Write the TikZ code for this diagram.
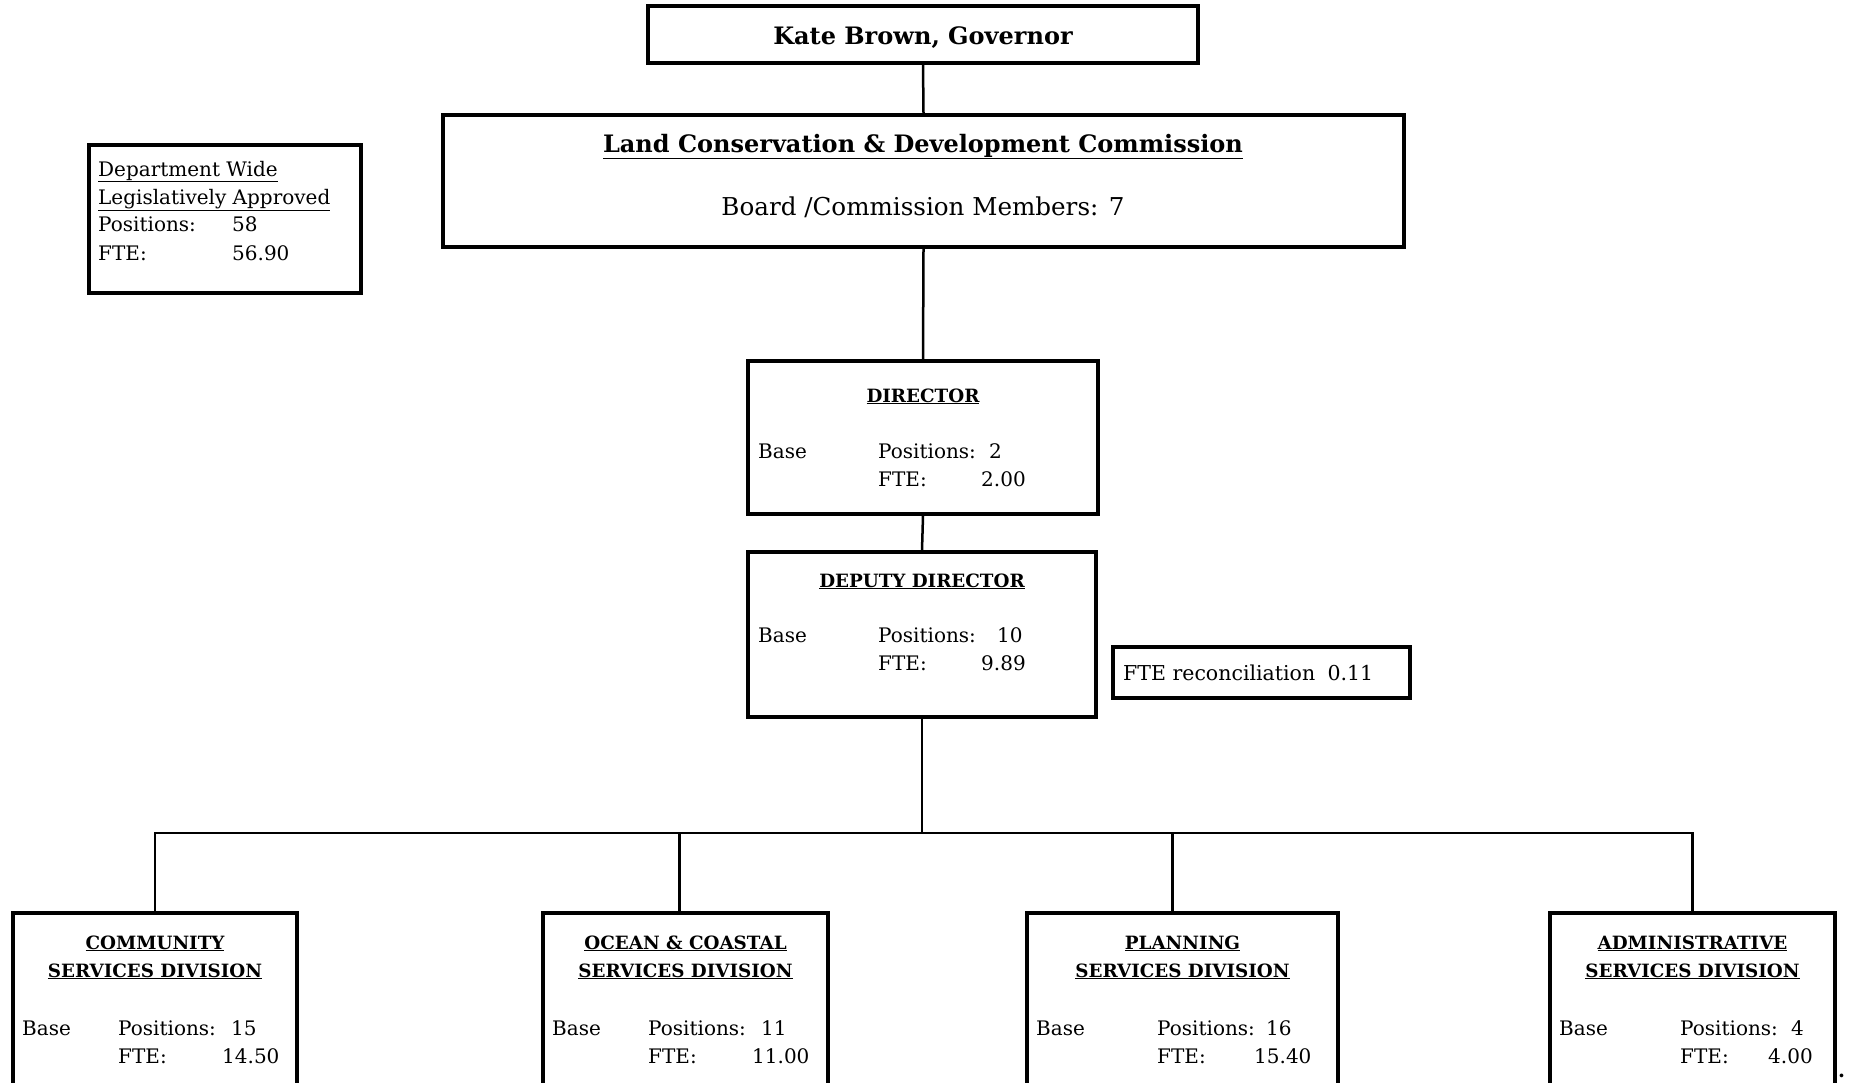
\documentclass[tikz,border=0pt]{standalone}
\usepackage{fontspec}
\setmainfont{DejaVu Serif}
\usetikzlibrary{positioning}
\tikzset{
        % Boxes
        orgbox/.style={rectangle, draw=black, line width=3.2pt, fill=white, inner sep=0pt},
        % Plain text lines
        stat/.style={inner sep=0pt, anchor=base west, font=\fontsize{20}{24}\selectfont},
        % Underlined headings
        heading/.style={inner sep=0pt, anchor=base, font=\fontsize{18.3}{22}\selectfont\bfseries},
        % Large texts of the top boxes
        bigtext/.style={inner sep=0pt, anchor=base, font=\fontsize{24.6}{28}\selectfont},
        % Connectors
        link/.style={line width=2.5pt}
}
\begin{document}
\begin{tikzpicture}[x=1pt, y=-1pt]
            \useasboundingbox (0,0) rectangle (1851,1082);
            \clip (0,0) rectangle (1851,1082);
            % Top of the chart
            \node[orgbox, minimum width=550pt, minimum height=57pt] (gov) at (923,34.5) {};
            \node[bigtext, font=\fontsize{24}{28}\selectfont\bfseries] (govname) at (923,44) {Kate Brown, Governor};
            \node[orgbox, minimum width=961pt, minimum height=132pt] (lcdc) at (923.5,181) {};
            \node[bigtext, font=\fontsize{24}{28}\selectfont\bfseries] (lcdcname) at (923,152) {\underline{Land Conservation \& Development Commission}};
            \node[bigtext] (lcdcmembers) at (923,215) {Board /Commission Members: 7};
            % Department wide totals
            \node[orgbox, minimum width=272pt, minimum height=148pt] (total) at (225,219) {};
            \node[stat] (totalline1) at (98,176) {\underline{Department Wide}};
            \node[stat] (totalline2) at (98,204) {\underline{Legislatively Approved}};
            \node[stat] (totalpos) at (98,231) {Positions:};
            \node[stat] (totalposnum) at (232,231) {58};
            \node[stat] (totalfte) at (98,260) {FTE:};
            \node[stat] (totalftenum) at (232,260) {56.90};
            % Director
            \node[orgbox, minimum width=350pt, minimum height=153pt] (dir) at (923,437.5) {};
            \node[heading] (dirname) at (923,402) {\underline{DIRECTOR}};
            \node[stat] (dirbase) at (758,458) {Base};
            \node[stat] (dirpos) at (878,458) {Positions:};
            \node[stat] (dirposnum) at (989,458) {2};
            \node[stat] (dirfte) at (878,486) {FTE:};
            \node[stat] (dirftenum) at (981,486) {2.00};
            % Deputy director
            \node[orgbox, minimum width=348pt, minimum height=165pt] (dep) at (922,634.5) {};
            \node[heading] (depname) at (922,587) {\underline{DEPUTY DIRECTOR}};
            \node[stat] (depbase) at (758,642) {Base};
            \node[stat] (deppos) at (878,642) {Positions:};
            \node[stat] (depposnum) at (997,642) {10};
            \node[stat] (depfte) at (878,670) {FTE:};
            \node[stat] (depftenum) at (981,670) {9.89};
            \node[orgbox, minimum width=297pt, minimum height=51pt] (recon) at (1261.5,672.5) {};
            \node[stat, font=\fontsize{20.5}{24}\selectfont] (recontext) at (1123,680) {FTE reconciliation\hspace{0.6em}0.11};
            % Divisions
            \node[orgbox, minimum width=284pt, minimum height=220pt] (comm) at (155,1023) {};
            \node[heading] (commname1) at (155,949) {\underline{COMMUNITY}};
            \node[heading] (commname2) at (155,977) {\underline{SERVICES DIVISION}};
            \node[stat] (commbase) at (22,1035) {Base};
            \node[stat] (commpos) at (118,1035) {Positions:};
            \node[stat] (commposnum) at (231,1035) {15};
            \node[stat] (commfte) at (118,1063) {FTE:};
            \node[stat] (commftenum) at (222,1063) {14.50};
            \node[orgbox, minimum width=285pt, minimum height=220pt] (ocean) at (685.5,1023) {};
            \node[heading] (oceanname1) at (685.5,949) {\underline{OCEAN \& COASTAL}};
            \node[heading] (oceanname2) at (685.5,977) {\underline{SERVICES DIVISION}};
            \node[stat] (oceanbase) at (552,1035) {Base};
            \node[stat] (oceanpos) at (648,1035) {Positions:};
            \node[stat] (oceanposnum) at (761,1035) {11};
            \node[stat] (oceanfte) at (648,1063) {FTE:};
            \node[stat] (oceanftenum) at (752,1063) {11.00};
            \node[orgbox, minimum width=311pt, minimum height=220pt] (plan) at (1182.5,1023) {};
            \node[heading] (planname1) at (1182.5,949) {\underline{PLANNING}};
            \node[heading] (planname2) at (1182.5,977) {\underline{SERVICES DIVISION}};
            \node[stat] (planbase) at (1036,1035) {Base};
            \node[stat] (planpos) at (1157,1035) {Positions:};
            \node[stat] (planposnum) at (1266,1035) {16};
            \node[stat] (planfte) at (1157,1063) {FTE:};
            \node[stat] (planftenum) at (1254,1063) {15.40};
            \node[orgbox, minimum width=285pt, minimum height=220pt] (admin) at (1692.5,1023) {};
            \node[heading] (adminname1) at (1692.5,949) {\underline{ADMINISTRATIVE}};
            \node[heading] (adminname2) at (1692.5,977) {\underline{SERVICES DIVISION}};
            \node[stat] (adminbase) at (1559,1035) {Base};
            \node[stat] (adminpos) at (1680,1035) {Positions:};
            \node[stat] (adminposnum) at (1791,1035) {4};
            \node[stat] (adminfte) at (1680,1063) {FTE:};
            \node[stat] (adminftenum) at (1768,1063) {4.00};
            \node[stat, font=\fontsize{20}{24}\selectfont\bfseries] (enddot) at (1838,1077) {.};
            % Connectors
            \coordinate (bus) at (922,833);
            \draw[link] (gov.south) -- (lcdc.north);
            \draw[link] (lcdc.south) -- (dir.north);
            \draw[link] (dir.south) -- (dep.north);
            \draw[link] (dep.south) -- (bus);
            \draw[link] (comm.north) |- (bus) -| (admin.north);
            \draw[link] ([xshift=-6pt]ocean.north) -- ([xshift=-6pt]ocean.north |- bus);
            \draw[link] ([xshift=-10pt]plan.north) -- ([xshift=-10pt]plan.north |- bus);
\end{tikzpicture}
\end{document}
